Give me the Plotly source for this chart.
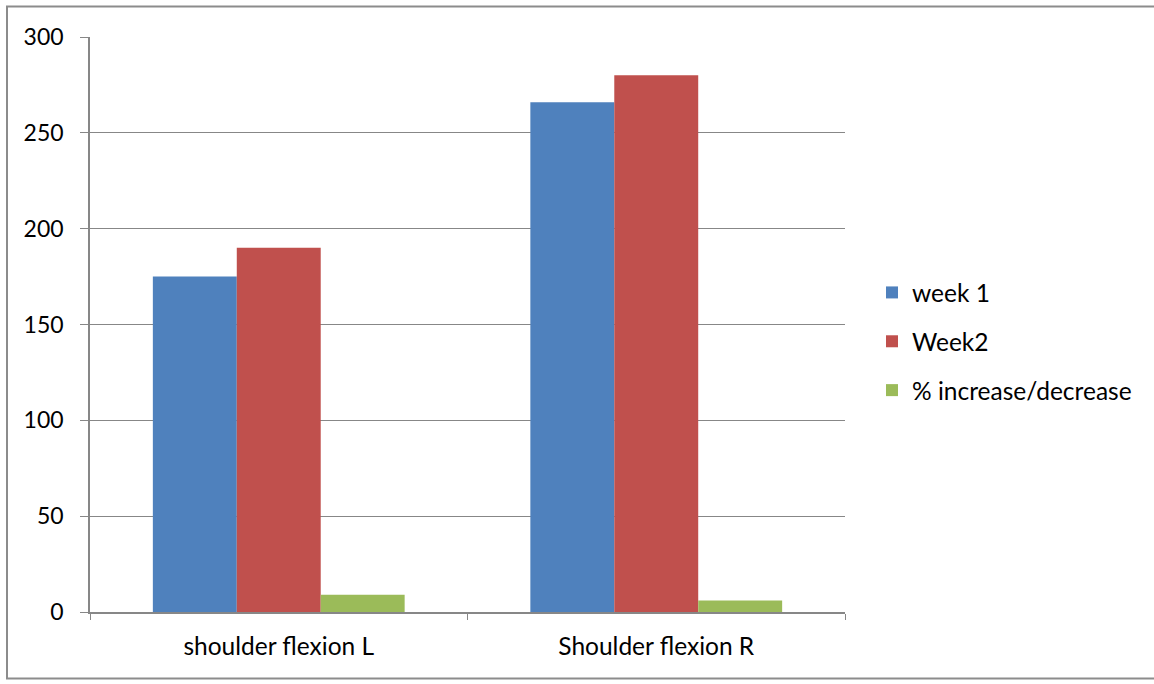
import plotly.graph_objects as go

categories = ["shoulder flexion L", "Shoulder flexion R"]
week1 = [175, 266]
week2 = [190, 280]
pct_change = [9, 6]
y_ticks = [0, 50, 100, 150, 200, 250, 300]

FONT = "Lato"
AXIS_GREY = "#878787"

W, H = 1154, 684
L, R, T, B = 90, 309, 37, 72
pw, ph = W - L - R, H - T - B

fig = go.Figure()
series = [
    ("week 1", week1, "#4F81BD"),
    ("Week2", week2, "#C0504D"),
    ("% increase/decrease", pct_change, "#9BBB59"),
]
for name, vals, color in series:
    fig.add_trace(go.Bar(
        x=categories, y=vals, name=name, legendgroup=name,
        marker=dict(color=color, line=dict(width=0)),
    ))

# outer chart frame
def px_x(px):
    return (px - L) / pw

def px_y(py):
    return (H - B - py) / ph

fig.add_shape(type="rect", xref="paper", yref="paper",
              x0=px_x(7), x1=px_x(1160), y0=px_y(678.5), y1=px_y(6.5),
              line=dict(color="#8c8c8c", width=2), fillcolor="rgba(0,0,0,0)",
              layer="below")

fig.update_layout(
    width=W, height=H,
    margin=dict(l=L, r=R, t=T, b=B, pad=0),
    paper_bgcolor="white", plot_bgcolor="white",
    barmode="group", bargap=0.333, bargroupgap=0,
    font=dict(family=FONT, size=24, color="black"),
    showlegend=True,
    legend=dict(
        x=px_x(872), y=px_y(270), xanchor="left", yanchor="top",
        font=dict(family=FONT, size=24.5, color="black"),
        tracegroupgap=14, itemwidth=30, bgcolor="rgba(0,0,0,0)",
    ),
    xaxis=dict(
        type="category", tickson="boundaries", ticks="outside", ticklen=6,
        tickcolor=AXIS_GREY, showline=True, linecolor=AXIS_GREY, linewidth=1.5,
        showgrid=False, ticklabelstandoff=12, tickfont=dict(size=24.5),
    ),
    yaxis=dict(
        range=[0, 300], tickvals=y_ticks, ticks="outside", ticklen=8,
        tickcolor=AXIS_GREY, showline=True, linecolor=AXIS_GREY, linewidth=1.5,
        showgrid=True, gridcolor=AXIS_GREY, gridwidth=1.2, zeroline=False,
        ticklabelstandoff=12, tickfont=dict(size=23),
    ),
)

fig.write_html("out.html")
